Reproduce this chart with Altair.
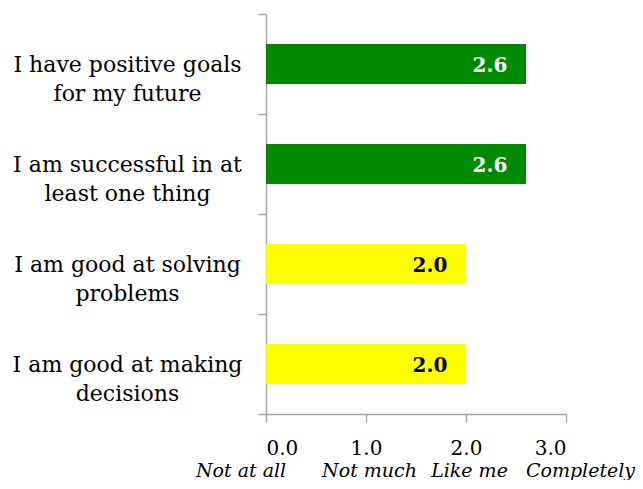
import altair as alt
import pandas as pd

categories = [
    "I have positive goals|for my future",
    "I am successful in at|least one thing",
    "I am good at solving|problems",
    "I am good at making|decisions",
]
values = [2.6, 2.6, 2.0, 2.0]
tick_values = [0, 1, 2, 3]
tick_words = ["Not at all", "Not much", "Like me", "Completely"]

GREEN = "#008a00"
YELLOW = "#ffff00"
AXIS = "#a6a6a6"
FONT = "DejaVu Serif"

df = pd.DataFrame({"cat": categories, "value": values})
ticks_df = pd.DataFrame({"t": tick_values, "word": tick_words})

xscale = alt.Scale(domain=[0, 3], nice=False, zero=True)
yscale = alt.Scale(paddingInner=0, paddingOuter=0)

x_enc = alt.X(
    "value:Q",
    scale=xscale,
    axis=alt.Axis(
        values=tick_values,
        format=".1f",
        grid=False,
        title=None,
        domainColor=AXIS,
        domainWidth=1.5,
        tickColor=AXIS,
        tickWidth=1.5,
        tickSize=8,
        labelFont=FONT,
        labelFontSize=20,
        labelColor="#000000",
        labelBaseline="alphabetic",
        labelPadding=32,
    ),
)
y_enc = alt.Y(
    "cat:N",
    sort=None,
    scale=yscale,
    axis=alt.Axis(
        title=None,
        tickBand="extent",
        domainColor=AXIS,
        domainWidth=1.5,
        tickColor=AXIS,
        tickWidth=1.5,
        tickSize=8,
        labelFont=FONT,
        labelFontSize=22,
        labelColor="#000000",
        labelAlign="center",
        labelBaseline="middle",
        labelPadding=131,
        labelLineHeight=29,
        labelExpr="split(datum.label, '|')",
        labelLimit=0,
    ),
)

bars = alt.Chart(df).mark_bar(size=40).encode(
    x=x_enc,
    y=y_enc,
    color=alt.condition(alt.datum.value > 2.5, alt.value(GREEN), alt.value(YELLOW)),
)

bar_labels = alt.Chart(df).mark_text(
    font=FONT, fontSize=20, fontWeight="bold", align="center", baseline="middle", dx=-36, dy=2
).encode(
    x=alt.X("value:Q", scale=xscale),
    y=alt.Y("cat:N", sort=None, scale=yscale),
    text=alt.Text("value:Q", format=".1f"),
    color=alt.condition(alt.datum.value > 2.5, alt.value("#ffffff"), alt.value("#000000")),
)

# the italic words sit slightly off-centre under the ticks, as in the original
words = (
    alt.Chart(ticks_df)
    .transform_calculate(
        xpos="datum.t + (datum.t == 0 ? -0.25 : (datum.t == 3 ? 0.145 : 0.035))"
    )
    .mark_text(
        font=FONT, fontSize=19, fontStyle="italic", align="center", baseline="alphabetic", color="#000000"
    )
    .encode(
        x=alt.X("xpos:Q", scale=xscale),
        y=alt.value(463),
        text="word:N",
    )
)

chart = (
    alt.layer(bars, bar_labels, words)
    .properties(
        width=300,
        height=400,
        autosize=alt.AutoSizeParams(type="none"),
        padding={"left": 258, "top": 6, "right": 69, "bottom": 66},
    )
    .configure_view(stroke=None)
)

chart.save("out.html", embed_options={"renderer": "svg", "actions": False})
